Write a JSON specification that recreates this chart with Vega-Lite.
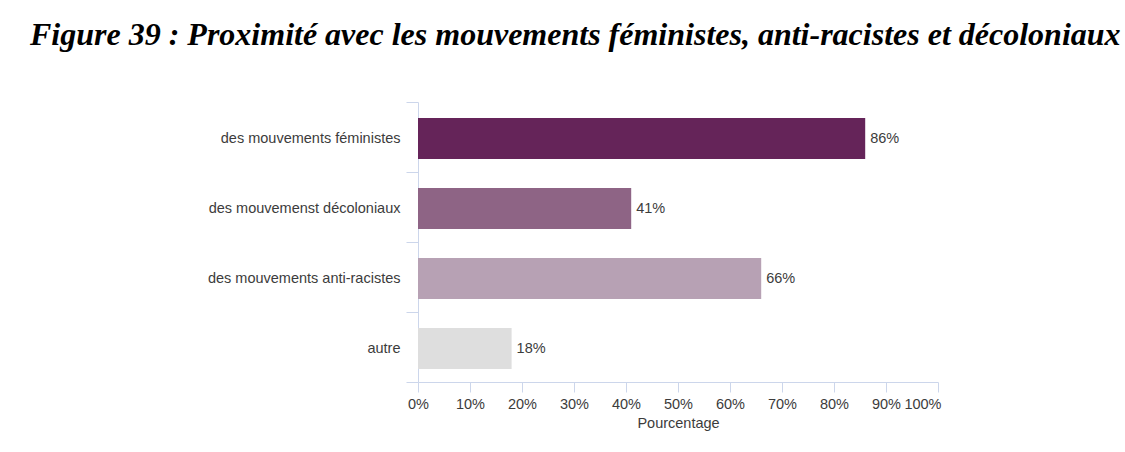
{
  "$schema": "https://vega.github.io/schema/vega-lite/v6.json",
  "autosize": {"type": "none"},
  "width": 520,
  "height": 280,
  "padding": {"left": 418, "top": 102, "right": 187, "bottom": 70},
  "background": "white",
  "title": {
    "text": "Figure 39 : Proximité avec les mouvements féministes, anti-racistes et décoloniaux",
    "font": "Liberation Serif",
    "fontSize": 32,
    "fontWeight": "bold",
    "fontStyle": "italic",
    "color": "#000000",
    "anchor": "start",
    "frame": "group",
    "align": "left",
    "baseline": "alphabetic",
    "dx": -388,
    "offset": 17
  },
  "config": {
    "view": {"stroke": null},
    "font": "Liberation Sans"
  },
  "data": {
    "values": [
      {"categorie": "des mouvements féministes", "valeur": 86, "label": "86%"},
      {"categorie": "des mouvemenst décoloniaux", "valeur": 41, "label": "41%"},
      {"categorie": "des mouvements anti-racistes", "valeur": 66, "label": "66%"},
      {"categorie": "autre", "valeur": 18, "label": "18%"}
    ]
  },
  "encoding": {
    "y": {
      "field": "categorie",
      "type": "nominal",
      "sort": null,
      "scale": {"paddingInner": 0, "paddingOuter": 0},
      "axis": {
        "title": null,
        "domainColor": "#ccd6eb",
        "tickColor": "#ccd6eb",
        "tickSize": 12,
        "tickBand": "extent",
        "labelFontSize": 14.5,
        "labelColor": "#3c3c3c",
        "labelPadding": 6,
        "labelLimit": 400,
        "labelOffset": 1,
        "labelFont": "Liberation Sans"
      }
    },
    "x": {
      "field": "valeur",
      "type": "quantitative",
      "scale": {"domain": [0, 100], "nice": false},
      "axis": {
        "title": "Pourcentage",
        "values": [0, 10, 20, 30, 40, 50, 60, 70, 80, 90, 100],
        "labelExpr": "datum.value + '%'",
        "labelAlign": {"condition": {"test": "datum.value == 100", "value": "right"}, "value": "center"},
        "labelOffset": {"condition": {"test": "datum.value == 100", "value": 3}, "value": 0},
        "grid": false,
        "domainColor": "#ccd6eb",
        "tickColor": "#ccd6eb",
        "tickSize": 10,
        "labelFontSize": 14.5,
        "labelColor": "#3c3c3c",
        "labelPadding": 5,
        "labelFont": "Liberation Sans",
        "titleFont": "Liberation Sans",
        "titleFontSize": 14.5,
        "titleFontWeight": "normal",
        "titleColor": "#3c3c3c",
        "titlePadding": 6
      }
    }
  },
  "layer": [
    {
      "mark": {"type": "bar", "height": {"band": 0.586}, "yOffset": 1.5},
      "encoding": {
        "color": {
          "field": "categorie",
          "type": "nominal",
          "legend": null,
          "scale": {
            "domain": ["des mouvements féministes", "des mouvemenst décoloniaux", "des mouvements anti-racistes", "autre"],
            "range": ["#652459", "#8e6485", "#b7a1b4", "#dedede"]
          }
        }
      }
    },
    {
      "mark": {"type": "text", "align": "left", "baseline": "middle", "dx": 5, "dy": 1.5, "fontSize": 14.5, "color": "#3c3c3c", "font": "Liberation Sans"},
      "encoding": {"text": {"field": "label"}}
    }
  ]
}
